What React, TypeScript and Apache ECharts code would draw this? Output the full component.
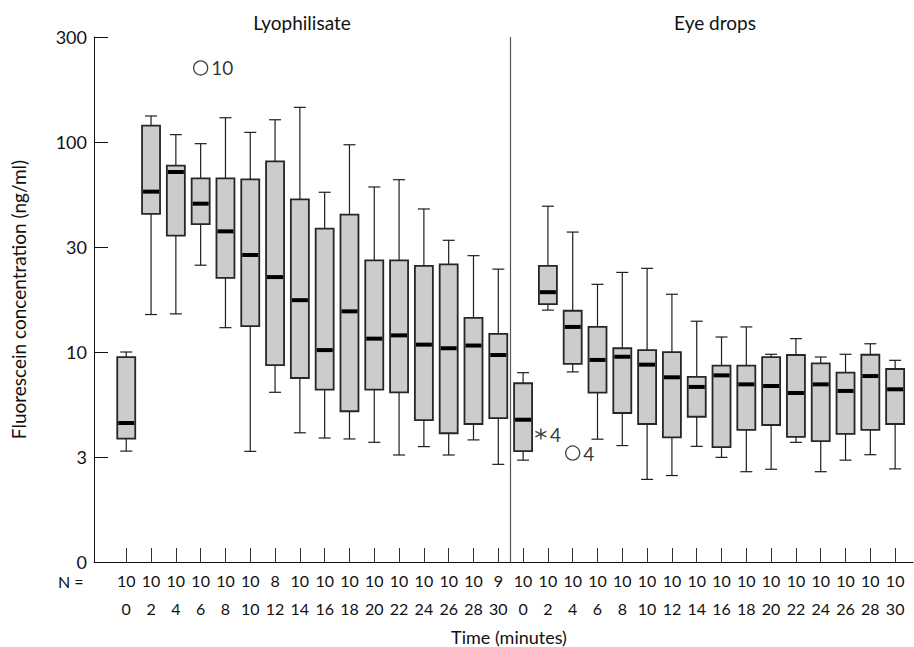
import React, { useEffect, useRef } from "react";
import * as echarts from "echarts";

// ---- Data (concentrations in ng/ml) ----
const times = [0, 2, 4, 6, 8, 10, 12, 14, 16, 18, 20, 22, 24, 26, 28, 30];
const yTickLabels = [0, 3, 10, 30, 100, 300];

const lyoN = [10, 10, 10, 10, 10, 10, 8, 10, 10, 10, 10, 10, 10, 10, 10, 9];
const lyoWhiskerLow = [3.21, 14.8, 14.9, 24.8, 12.9, 3.2, 6.3, 3.96, 3.73, 3.69, 3.55, 3.07, 3.38, 3.07, 3.65, 2.79];
const lyoQ1 = [3.7, 43.9, 34.2, 39.0, 21.7, 13.1, 8.61, 7.42, 6.49, 5.07, 6.49, 6.3, 4.58, 3.94, 4.38, 4.68];
const lyoMedian = [4.43, 56.6, 70.9, 49.3, 35.9, 27.6, 21.9, 17.2, 10.2, 15.3, 11.5, 11.9, 10.8, 10.4, 10.7, 9.66];
const lyoQ3 = [9.42, 118.6, 76.2, 65.9, 65.9, 65.2, 80.1, 51.8, 37.0, 43.5, 26.1, 26.1, 24.6, 25.0, 14.3, 12.1];
const lyoWhiskerHigh = [10.0, 131.3, 108.0, 98.1, 128.9, 110.6, 126.2, 143.7, 56.2, 96.9, 59.7, 64.9, 46.4, 32.4, 27.4, 23.8];

const eyeN = [10, 10, 10, 10, 10, 10, 10, 10, 10, 10, 10, 10, 10, 10, 10, 10];
const eyeWhiskerLow = [2.91, 15.5, 7.96, 3.68, 3.42, 2.36, 2.47, 3.39, 2.99, 2.58, 2.65, 3.55, 2.58, 2.91, 3.08, 2.66];
const eyeQ1 = [3.21, 16.5, 8.72, 6.27, 4.97, 4.38, 3.76, 4.76, 3.36, 4.09, 4.33, 3.78, 3.6, 3.91, 4.09, 4.38];
const eyeMedian = [4.6, 18.7, 13.0, 9.13, 9.47, 8.65, 7.48, 6.7, 7.65, 6.9, 6.77, 6.25, 6.9, 6.4, 7.59, 6.52];
const eyeQ3 = [6.99, 24.6, 15.4, 13.0, 10.4, 10.2, 9.98, 7.51, 8.55, 8.55, 9.42, 9.66, 8.78, 7.89, 9.69, 8.23];
const eyeWhiskerHigh = [7.89, 47.9, 35.6, 20.3, 23.0, 24.0, 18.3, 13.8, 11.7, 13.0, 9.74, 11.5, 9.44, 9.74, 10.9, 9.09];

// Outliers: [category index, value, case label]
const outliers = [[3, 217, "10"], [18, 3.14, "4"]];
const extremes = [[17, 3.9, "4"]];

// ---- Axis transform: equally spaced ticks 0,3,10,30,100,300 (log within segments) ----
function toAxis(v: number): number {
  if (v <= yTickLabels[1]) return v / yTickLabels[1];
  for (let k = 1; k < yTickLabels.length - 1; k++) {
    const lo = yTickLabels[k];
    const hi = yTickLabels[k + 1];
    if (v <= hi) return k + Math.log(v / lo) / Math.log(hi / lo);
  }
  return yTickLabels.length - 1;
}

const FONT = "Lato";

export default function App() {
  const ref = useRef<HTMLDivElement>(null);

  useEffect(() => {
    if (!ref.current) return;
    const chart = echarts.init(ref.current, null, { renderer: "svg" });

    const nGroups = times.length;
    const boxData: number[][] = [];
    for (let i = 0; i < nGroups; i++) {
      boxData.push([i, toAxis(lyoWhiskerLow[i]), toAxis(lyoQ1[i]), toAxis(lyoMedian[i]), toAxis(lyoQ3[i]), toAxis(lyoWhiskerHigh[i])]);
    }
    for (let i = 0; i < nGroups; i++) {
      boxData.push([nGroups + i, toAxis(eyeWhiskerLow[i]), toAxis(eyeQ1[i]), toAxis(eyeMedian[i]), toAxis(eyeQ3[i]), toAxis(eyeWhiskerHigh[i])]);
    }
    const catValues = boxData.map((d) => d[0]);

    const xLabel = (v: number) => {
      const i = Math.round(v);
      if (i < 0 || i >= 2 * nGroups) return "";
      const n = i < nGroups ? lyoN[i] : eyeN[i - nGroups];
      const t = times[i % nGroups];
      return n + "\n" + t;
    };

    const option: any = {
      animation: false,
      backgroundColor: "#ffffff",
      textStyle: { fontFamily: FONT, color: "#111" },
      grid: { left: 94, right: 1, top: 37, bottom: 85, containLabel: false, outerBoundsMode: "none" },
      xAxis: {
        type: "value",
        min: -1.3,
        max: 31.72,
        name: "Time (minutes)",
        nameLocation: "middle",
        nameGap: 62,
        nameTextStyle: { fontSize: 18, color: "#111", fontFamily: FONT, padding: [0, 0, 0, 11] },
        splitLine: { show: false },
        axisLine: { show: true, onZero: false, lineStyle: { color: "#111", width: 1 } },
        axisTick: {
          show: true,
          inside: true,
          length: 14,
          customValues: catValues,
          lineStyle: { color: "#333", width: 1 },
        },
        axisLabel: {
          show: true,
          customValues: catValues,
          formatter: xLabel,
          fontSize: 16,
          lineHeight: 28.5,
          margin: 4,
          color: "#111",
          fontFamily: FONT,
        },
      },
      yAxis: {
        type: "value",
        min: 0,
        max: yTickLabels.length - 1,
        interval: 1,
        name: "Fluorescein concentration (ng/ml)",
        nameLocation: "middle",
        nameGap: 66,
        nameTextStyle: { fontSize: 19, color: "#111", fontFamily: FONT },
        splitLine: { show: false },
        axisLine: { show: true, onZero: false, lineStyle: { color: "#111", width: 1 } },
        axisTick: { show: true, inside: true, length: 14, lineStyle: { color: "#111", width: 1 } },
        axisLabel: {
          formatter: (v: number) => String(yTickLabels[Math.round(v)] ?? ""),
          fontSize: 18,
          margin: 7,
          color: "#111",
          fontFamily: FONT,
        },
      },
      graphic: [
        { type: "text", x: 302, y: 22, style: { text: "Lyophilisate", align: "center", verticalAlign: "middle", fontSize: 19, fontFamily: FONT, fill: "#111" } },
        { type: "text", x: 715, y: 22, style: { text: "Eye drops", align: "center", verticalAlign: "middle", fontSize: 19, fontFamily: FONT, fill: "#111" } },
        { type: "text", x: 58, y: 581, style: { text: "N =", align: "left", verticalAlign: "middle", fontSize: 16, fontFamily: FONT, fill: "#111" } },
      ],
      series: [
        {
          type: "custom",
          name: "boxes",
          data: boxData,
          encode: { x: 0, y: [1, 2, 3, 4, 5] },
          renderItem: (params: any, api: any) => {
            const x = api.value(0);
            const pLow = api.coord([x, api.value(1)]);
            const pQ1 = api.coord([x, api.value(2)]);
            const pMed = api.coord([x, api.value(3)]);
            const pQ3 = api.coord([x, api.value(4)]);
            const pHigh = api.coord([x, api.value(5)]);
            const cx = pLow[0];
            const bw = 18;
            const cw = 12;
            const ws = { stroke: "#1e1e1e", lineWidth: 1.2 };
            return {
              type: "group",
              children: [
                { type: "line", shape: { x1: cx, y1: pHigh[1], x2: cx, y2: pQ3[1] }, style: ws },
                { type: "line", shape: { x1: cx, y1: pQ1[1], x2: cx, y2: pLow[1] }, style: ws },
                { type: "line", shape: { x1: cx - cw / 2, y1: pHigh[1], x2: cx + cw / 2, y2: pHigh[1] }, style: ws },
                { type: "line", shape: { x1: cx - cw / 2, y1: pLow[1], x2: cx + cw / 2, y2: pLow[1] }, style: ws },
                {
                  type: "rect",
                  shape: { x: cx - bw / 2, y: pQ3[1], width: bw, height: pQ1[1] - pQ3[1] },
                  style: { fill: "#cccccc", stroke: "#262626", lineWidth: 1.8 },
                },
                { type: "line", shape: { x1: cx - bw / 2 + 1, y1: pMed[1], x2: cx + bw / 2 - 1, y2: pMed[1] }, style: { stroke: "#000", lineWidth: 4 } },
              ],
            };
          },
          markLine: {
            silent: true,
            symbol: "none",
            label: { show: false },
            lineStyle: { color: "#555", width: 1.2, type: "solid" },
            data: [{ xAxis: 15.5 }],
          },
          z: 2,
        },
        {
          type: "scatter",
          name: "outliers",
          data: outliers.map((o) => ({ value: [o[0], toAxis(o[1] as number)], name: o[2] })),
          symbol: "circle",
          symbolSize: 14,
          itemStyle: { color: "rgba(255,255,255,0)", borderColor: "#111", borderWidth: 1.3 },
          label: { show: true, position: "right", distance: 3, formatter: (p: any) => p.name, fontSize: 19, color: "#000", textBorderWidth: 0, fontFamily: FONT },
          z: 3,
        },
        {
          type: "scatter",
          name: "extremes",
          data: extremes.map((o) => ({ value: [o[0], toAxis(o[1] as number)], name: o[2] })),
          symbol: "path://M5,0L5,10M0.67,2.5L9.33,7.5M0.67,7.5L9.33,2.5",
          symbolSize: 11,
          symbolOffset: [-7, 0],
          itemStyle: { color: "#111", borderColor: "#111", borderWidth: 1.4 },
          label: { show: true, position: "right", distance: 3, formatter: (p: any) => p.name, fontSize: 19, color: "#000", textBorderWidth: 0, fontFamily: FONT },
          z: 3,
        },
      ],
    };

    chart.setOption(option);
    return () => chart.dispose();
  }, []);

  return (
    <div
      ref={ref}
      style={{ position: "fixed", left: 0, top: 0, width: 914, height: 647, background: "#fff" }}
    />
  );
}
